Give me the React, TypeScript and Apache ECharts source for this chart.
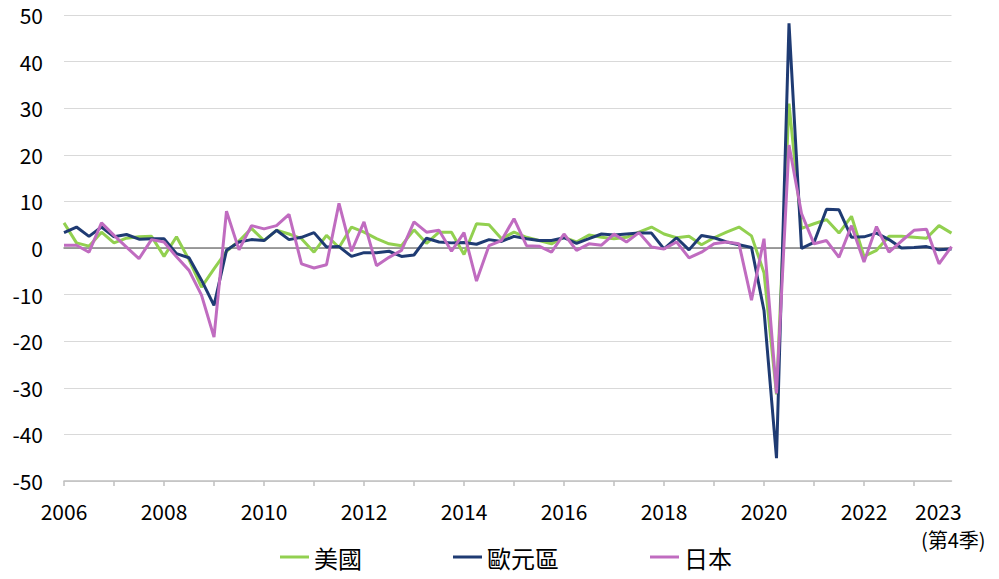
import React, { useEffect, useRef } from "react";
import * as echarts from "echarts";

const years = [2006, 2007, 2008, 2009, 2010, 2011, 2012, 2013, 2014, 2015, 2016, 2017, 2018, 2019, 2020, 2021, 2022, 2023];
const quarters = ["Q1", "Q2", "Q3", "Q4"];
const categories = years.flatMap((y) => quarters.map((q) => `${y}${q}`));

const lastLabelYear = "2023";
const lastLabelNote = "(第4季)";

const yMin = -50;
const yMax = 50;
const yInterval = 10;

const seriesNames = ["美國", "歐元區", "日本"];
const seriesColors = ["#92D050", "#1F3B73", "#C06CC0"];

const usValues = [
  5.4, 1.1, 0.4, 3.4, 1.1, 2.1, 2.4, 2.5,
  -1.8, 2.4, -2.5, -8.4, -4.5, -0.7, 1.5, 4.2,
  1.6, 3.8, 3.0, 2.0, -0.9, 2.7, 0.1, 4.5,
  3.4, 2.0, 0.9, 0.5, 3.9, 1.0, 3.4, 3.4,
  -1.4, 5.2, 5.0, 2.0, 3.4, 2.3, 1.6, 0.9,
  2.3, 1.3, 2.8, 2.3, 2.0, 2.3, 3.4, 4.5,
  3.0, 2.2, 2.5, 0.7, 2.2, 3.4, 4.5, 2.6,
  -5.3, -31.4, 31.0, 4.2, 5.2, 6.1, 3.2, 6.8,
  -1.8, -0.5, 2.5, 2.5, 2.3, 2.1, 4.8, 3.2,
];

const euroValues = [
  3.3, 4.5, 2.5, 4.5, 2.4, 2.9, 1.9, 2.0,
  2.0, -1.2, -2.1, -6.9, -12.3, -0.5, 1.3, 1.8,
  1.6, 3.8, 1.8, 2.3, 3.3, 0.2, 0.3, -1.8,
  -1.0, -1.0, -0.7, -1.8, -1.5, 2.1, 1.3, 1.1,
  1.2, 0.8, 1.8, 1.4, 2.5, 2.0, 1.6, 1.6,
  2.2, 1.0, 2.0, 3.0, 2.8, 3.0, 3.2, 3.2,
  -0.2, 2.2, -0.4, 2.7, 2.2, 1.3, 0.7, 0.1,
  -13.4, -45.1, 48.2, -0.1, 1.2, 8.3, 8.2, 2.3,
  2.4, 3.2, 1.8, 0.0, 0.1, 0.3, -0.4, -0.2,
];

const japanValues = [
  0.6, 0.6, -0.9, 5.4, 2.7, 0.2, -2.3, 1.8,
  1.3, -1.9, -4.8, -10.1, -19.1, 7.9, -0.4, 4.8,
  4.1, 4.8, 7.2, -3.4, -4.3, -3.6, 9.6, -0.7,
  5.6, -3.8, -2.0, -0.5, 5.6, 3.4, 3.8, -0.7,
  3.3, -7.1, 0.5, 1.6, 6.3, 0.5, 0.4, -0.9,
  3.0, -0.5, 0.9, 0.6, 3.0, 1.3, 3.3, 0.2,
  -0.2, 1.3, -2.1, -0.9, 0.9, 1.3, 0.9, -11.2,
  2.0, -31.2, 22.1, 7.4, 0.9, 1.6, -2.0, 4.8,
  -3.0, 4.6, -0.9, 1.5, 3.8, 4.0, -3.4, 0.3,
];

const allValues = [usValues, euroValues, japanValues];

const FONT = "'Noto Sans CJK TC', 'Noto Sans', sans-serif";

export default function App() {
  const ref = useRef<HTMLDivElement>(null);

  useEffect(() => {
    if (!ref.current) return;
    const chart = echarts.init(ref.current, undefined, { renderer: "svg" });
    const lastIndex = categories.length - 1;

    const option: any = {
      animation: false,
      textStyle: { fontFamily: FONT },
      grid: { left: 64, right: 47.5, top: 15, bottom: 98, containLabel: false },
      legend: {
        data: seriesNames,
        left: 280,
        top: 545,
        padding: 0,
        icon: "rect",
        itemWidth: 29,
        itemHeight: 3,
        itemGap: 91,
        textStyle: { fontSize: 24, color: "#000", fontFamily: FONT },
      },
      xAxis: [
        {
          type: "category",
          data: categories,
          boundaryGap: false,
          position: "bottom",
          axisLine: { onZero: false, lineStyle: { color: "#BFBFBF", width: 1.5 } },
          axisTick: {
            show: true,
            interval: (index: number) => index % 4 === 0,
            length: 5,
            lineStyle: { color: "#BFBFBF", width: 1.5 },
          },
          axisLabel: {
            interval: (index: number) => index % 8 === 0 || index === lastIndex,
            fontSize: 21,
            lineHeight: 28,
            color: "#000",
            margin: 16,
            fontFamily: FONT,
            formatter: (value: string, index: number) =>
              index === lastIndex
                ? `{a|${lastLabelYear}}\n{b|${lastLabelNote}}`
                : value.slice(0, 4),
            rich: {
              a: { fontSize: 21, lineHeight: 28, width: 73, align: "left", color: "#000", fontFamily: FONT },
              b: { fontSize: 20, lineHeight: 28, width: 67, align: "left", padding: [0, 0, 0, 6], color: "#000", fontFamily: FONT },
            },
          },
          splitLine: { show: false },
        },
        {
          type: "category",
          data: categories,
          boundaryGap: false,
          axisLine: { show: true, onZero: true, lineStyle: { color: "#808080", width: 1.5 } },
          axisTick: { show: false },
          axisLabel: { show: false },
          splitLine: { show: false },
        },
      ],
      yAxis: {
        type: "value",
        min: yMin,
        max: yMax,
        interval: yInterval,
        axisLine: { show: false },
        axisTick: { show: false },
        axisLabel: { fontSize: 21, color: "#000", margin: 21, fontFamily: FONT },
        splitLine: { show: true, lineStyle: { color: "#D9D9D9", width: 1 } },
      },
      series: seriesNames.map((name, i) => ({
        name,
        type: "line",
        xAxisIndex: 0,
        data: allValues[i],
        symbol: "none",
        showSymbol: false,
        lineStyle: { width: 3, color: seriesColors[i] },
        itemStyle: { color: seriesColors[i] },
        z: 2 + i,
      })),
    };

    chart.setOption(option);
    return () => chart.dispose();
  }, []);

  return (
    <div
      ref={ref}
      style={{ position: "absolute", left: 0, top: 0, width: 999, height: 579 }}
    />
  );
}
